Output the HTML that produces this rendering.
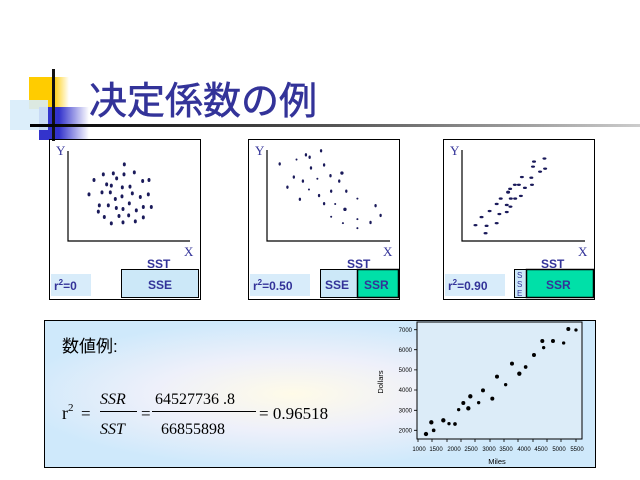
<!DOCTYPE html>
<html><head><meta charset="utf-8"><style>
html,body{margin:0;padding:0;background:#fff;width:640px;height:480px;overflow:hidden}
svg{display:block}
</style></head><body>
<svg width="640" height="480" viewBox="0 0 640 480" xmlns="http://www.w3.org/2000/svg">
<defs>
<linearGradient id="ln" x1="0" x2="1"><stop offset="0" stop-color="#000"/><stop offset="0.5" stop-color="#555"/><stop offset="1" stop-color="#ccc"/></linearGradient>
<linearGradient id="yl" x1="0" x2="1"><stop offset="0.6" stop-color="#ffcc00"/><stop offset="1" stop-color="#fff"/></linearGradient>
<linearGradient id="bl" x1="0" x2="1"><stop offset="0.4" stop-color="#3333cc"/><stop offset="1" stop-color="#fff"/></linearGradient>
<radialGradient id="bg" cx="0.45" cy="0.5" r="0.5"><stop offset="0" stop-color="#fffbe8"/><stop offset="0.5" stop-color="#eef0fa"/><stop offset="1" stop-color="#cfe9fb"/></radialGradient>
</defs>
<rect x="29" y="77" width="40" height="32" fill="url(#yl)"/>
<rect x="39" y="107" width="50" height="33" fill="url(#bl)"/>
<rect x="10" y="100" width="38" height="30" fill="#d8ecfa" opacity="0.9"/>
<rect x="52" y="69" width="3" height="72" fill="#111"/>
<rect x="30" y="124" width="610" height="3" fill="url(#ln)"/>
<text x="89" y="114" font-family="'Liberation Sans','Noto Sans CJK JP',sans-serif" font-size="38" fill="#333399" stroke="#333399" stroke-width="0.6">决定係数の例</text>

<g font-family="'Liberation Serif',serif" font-size="13" fill="#333399">
<rect x="49.5" y="139.5" width="151" height="160" fill="none" stroke="#000"/>
<path d="M68 151V241H190" fill="none" stroke="#000" stroke-width="1.2"/>
<text x="56" y="155">Y</text><text x="184" y="256">X</text>
<rect x="51" y="274" width="40" height="22" fill="#d8ecfa"/>
<rect x="121.5" y="269.5" width="77" height="28" fill="#cce8f8" stroke="#000"/>
<rect x="248.5" y="139.5" width="151" height="160" fill="none" stroke="#000"/>
<path d="M267 150V241H390" fill="none" stroke="#000" stroke-width="1.2"/>
<text x="255" y="155">Y</text><text x="383" y="256">X</text>
<rect x="250" y="274" width="60" height="22" fill="#d8ecfa"/>
<rect x="320.5" y="269.5" width="38" height="28" fill="#cce8f8" stroke="#000"/>
<rect x="357.5" y="269.5" width="41" height="28" fill="#00e0a8" stroke="#000" stroke-width="1.5"/>
<rect x="443.5" y="139.5" width="151" height="160" fill="none" stroke="#000"/>
<path d="M462 150V241H585" fill="none" stroke="#000" stroke-width="1.2"/>
<text x="450" y="155">Y</text><text x="578" y="256">X</text>
<rect x="445" y="274" width="60" height="22" fill="#d8ecfa"/>
<rect x="514.5" y="269.5" width="12" height="28" fill="#cce8f8" stroke="#000"/>
<rect x="526.5" y="269.5" width="67" height="28" fill="#00e0a8" stroke="#000" stroke-width="1.5"/>
</g>
<g font-family="'Liberation Sans',sans-serif" font-size="12" font-weight="bold" fill="#333399">
<text x="147" y="268">SST</text><text x="148" y="289">SSE</text>
<text x="54" y="290">r<tspan font-size="8" dy="-5">2</tspan><tspan dy="5">=0</tspan></text>
<text x="347" y="268">SST</text><text x="325" y="289">SSE</text><text x="364" y="289">SSR</text>
<text x="253" y="290">r<tspan font-size="8" dy="-5">2</tspan><tspan dy="5">=0.50</tspan></text>
<text x="541" y="268">SST</text><text x="546" y="289">SSR</text>
<text x="448" y="290">r<tspan font-size="8" dy="-5">2</tspan><tspan dy="5">=0.90</tspan></text>
<g font-size="8" font-weight="normal"><text x="517" y="278">S</text><text x="517" y="287">S</text><text x="517" y="296">E</text></g>
</g>
<g fill="#1a1a5a" transform="translate(0,60) scale(0.3333)">
<ellipse cx="282" cy="360" rx="4.5" ry="6"/><ellipse cx="310" cy="343" rx="4.5" ry="6"/><ellipse cx="340" cy="340" rx="4.5" ry="6"/><ellipse cx="350" cy="355" rx="4.5" ry="6"/><ellipse cx="372" cy="343" rx="4.5" ry="6"/><ellipse cx="403" cy="337" rx="4.5" ry="6"/><ellipse cx="428" cy="363" rx="4.5" ry="6"/><ellipse cx="447" cy="360" rx="4.5" ry="6"/><ellipse cx="320" cy="373" rx="4.5" ry="6"/><ellipse cx="334" cy="377" rx="4.5" ry="6"/><ellipse cx="367" cy="382" rx="4.5" ry="6"/><ellipse cx="390" cy="380" rx="4.5" ry="6"/><ellipse cx="267" cy="403" rx="4.5" ry="6"/><ellipse cx="306" cy="397" rx="4.5" ry="6"/><ellipse cx="331" cy="397" rx="4.5" ry="6"/><ellipse cx="346" cy="417" rx="4.5" ry="6"/><ellipse cx="366" cy="409" rx="4.5" ry="6"/><ellipse cx="397" cy="400" rx="4.5" ry="6"/><ellipse cx="421" cy="411" rx="4.5" ry="6"/><ellipse cx="445" cy="403" rx="4.5" ry="6"/><ellipse cx="298" cy="436" rx="4.5" ry="6"/><ellipse cx="325" cy="436" rx="4.5" ry="6"/><ellipse cx="349" cy="444" rx="4.5" ry="6"/><ellipse cx="369" cy="447" rx="4.5" ry="6"/><ellipse cx="388" cy="430" rx="4.5" ry="6"/><ellipse cx="409" cy="451" rx="4.5" ry="6"/><ellipse cx="430" cy="441" rx="4.5" ry="6"/><ellipse cx="454" cy="441" rx="4.5" ry="6"/><ellipse cx="295" cy="455" rx="4.5" ry="6"/><ellipse cx="313" cy="471" rx="4.5" ry="6"/><ellipse cx="357" cy="468" rx="4.5" ry="6"/><ellipse cx="386" cy="466" rx="4.5" ry="6"/><ellipse cx="334" cy="490" rx="4.5" ry="6"/><ellipse cx="369" cy="487" rx="4.5" ry="6"/><ellipse cx="406" cy="484" rx="4.5" ry="6"/><ellipse cx="430" cy="472" rx="4.5" ry="6"/><ellipse cx="373" cy="313" rx="4.5" ry="6"/>
</g>
<g fill="#1a1a5a" transform="translate(240,135) scale(0.3364)">
<ellipse cx="118" cy="86" rx="3.5" ry="5"/><ellipse cx="168" cy="73" rx="3" ry="3"/><ellipse cx="196" cy="59" rx="3.5" ry="5"/><ellipse cx="207" cy="66" rx="3.5" ry="5"/><ellipse cx="241" cy="47" rx="3.5" ry="5"/><ellipse cx="250" cy="89" rx="3.5" ry="5"/><ellipse cx="211" cy="98" rx="3.5" ry="5"/><ellipse cx="160" cy="125" rx="3.5" ry="5"/><ellipse cx="187" cy="137" rx="3.5" ry="5"/><ellipse cx="230" cy="130" rx="3" ry="3"/><ellipse cx="269" cy="121" rx="3.5" ry="5"/><ellipse cx="303" cy="113" rx="5" ry="5"/><ellipse cx="295" cy="137" rx="3.5" ry="5"/><ellipse cx="141" cy="155" rx="3.5" ry="5"/><ellipse cx="205" cy="162" rx="3" ry="3"/><ellipse cx="235" cy="180" rx="3.5" ry="5"/><ellipse cx="271" cy="167" rx="3.5" ry="5"/><ellipse cx="316" cy="167" rx="3.5" ry="5"/><ellipse cx="178" cy="191" rx="3.5" ry="5"/><ellipse cx="250" cy="204" rx="3.5" ry="5"/><ellipse cx="283" cy="205" rx="3" ry="3"/><ellipse cx="312" cy="221" rx="5" ry="5"/><ellipse cx="349" cy="189" rx="3" ry="3"/><ellipse cx="271" cy="243" rx="3" ry="3"/><ellipse cx="306" cy="262" rx="3" ry="3"/><ellipse cx="349" cy="250" rx="3" ry="3"/><ellipse cx="349" cy="277" rx="3" ry="3"/><ellipse cx="388" cy="260" rx="3.5" ry="5"/><ellipse cx="403" cy="210" rx="3.5" ry="5"/><ellipse cx="418" cy="239" rx="3.5" ry="5"/>
<ellipse cx="700" cy="268" rx="6" ry="3.5"/><ellipse cx="718" cy="244" rx="6" ry="3.5"/><ellipse cx="733" cy="270" rx="6" ry="3.5"/><ellipse cx="730" cy="292" rx="6" ry="3.5"/><ellipse cx="742" cy="226" rx="6" ry="3.5"/><ellipse cx="763" cy="205" rx="6" ry="3.5"/><ellipse cx="771" cy="235" rx="6" ry="3.5"/><ellipse cx="763" cy="262" rx="6" ry="3.5"/><ellipse cx="775" cy="189" rx="6" ry="3.5"/><ellipse cx="793" cy="208" rx="6" ry="3.5"/><ellipse cx="804" cy="213" rx="6" ry="3.5"/><ellipse cx="793" cy="229" rx="6" ry="3.5"/><ellipse cx="797" cy="170" rx="6" ry="4.5"/><ellipse cx="803" cy="160" rx="6" ry="3.5"/><ellipse cx="805" cy="189" rx="6" ry="3.5"/><ellipse cx="818" cy="189" rx="6" ry="3.5"/><ellipse cx="817" cy="148" rx="6" ry="3.5"/><ellipse cx="829" cy="148" rx="6" ry="3.5"/><ellipse cx="835" cy="181" rx="6" ry="3.5"/><ellipse cx="847" cy="157" rx="6" ry="3.5"/><ellipse cx="838" cy="125" rx="6" ry="3.5"/><ellipse cx="866" cy="127" rx="6" ry="3.5"/><ellipse cx="868" cy="148" rx="6" ry="3.5"/><ellipse cx="871" cy="94" rx="6" ry="3.5"/><ellipse cx="874" cy="79" rx="6" ry="3.5"/><ellipse cx="892" cy="109" rx="6" ry="3.5"/><ellipse cx="905" cy="70" rx="6" ry="3.5"/><ellipse cx="907" cy="100" rx="6" ry="3.5"/>
</g>

<rect x="44.5" y="320.5" width="551" height="147" fill="url(#bg)" stroke="#000"/>
<g font-family="'Liberation Serif','Noto Serif CJK SC',serif" fill="#000">
<text x="62" y="352" font-size="17" font-family="'Liberation Sans','Noto Sans CJK JP',sans-serif">数値例:</text>
<text x="62" y="419" font-size="18">r<tspan font-size="11" dy="-8">2</tspan></text>
<text x="81" y="419" font-size="17">=</text>
<text x="100" y="404" font-size="16" font-style="italic">SSR</text>
<rect x="100" y="411" width="37" height="1"/>
<text x="100" y="434" font-size="16" font-style="italic">SST</text>
<text x="141" y="419" font-size="17">=</text>
<text x="155" y="404" font-size="16">64527736 .8</text>
<rect x="152" y="411" width="104" height="1"/>
<text x="161" y="434" font-size="16">66855898</text>
<text x="259" y="419" font-size="17">= 0.96518</text>
</g>
<rect x="417" y="322" width="165" height="117" fill="#dcecf8" stroke="#000" stroke-width="1"/>
<g transform="translate(370,315) scale(0.3333)" fill="#000">
<circle cx="168" cy="357" r="6.5"/><circle cx="184" cy="322" r="6.5"/><circle cx="191" cy="346" r="5.5"/><circle cx="220" cy="316" r="6.5"/><circle cx="237" cy="326" r="5"/><circle cx="255" cy="327" r="5.5"/><circle cx="266" cy="284" r="5"/><circle cx="280" cy="264" r="6"/><circle cx="295" cy="280" r="6.5"/><circle cx="301" cy="244" r="6.5"/><circle cx="326" cy="263" r="5"/><circle cx="339" cy="226" r="6"/><circle cx="367" cy="251" r="6"/><circle cx="381" cy="185" r="6"/><circle cx="407" cy="209" r="5"/><circle cx="426" cy="146" r="6"/><circle cx="448" cy="176" r="6.5"/><circle cx="467" cy="156" r="5.5"/><circle cx="492" cy="120" r="6"/><circle cx="517" cy="78" r="6"/><circle cx="521" cy="98" r="5"/><circle cx="549" cy="78" r="6"/><circle cx="581" cy="84" r="5"/><circle cx="595" cy="42" r="6"/><circle cx="618" cy="45" r="5"/>
</g>
<g stroke="#000" stroke-width="0.8">
<path d="M414 329.7H417M414 349.7H417M414 369.9H417M414 390H417M414 410.3H417M414 430.3H417"/>
<path d="M418 439V442M432 439V442M447 439V442M461 439V442M475 439V442M490 439V442M504 439V442M518 439V442M533 439V442M547 439V442M561 439V442M576 439V442"/>
</g>
<g font-family="'Liberation Sans',sans-serif" font-size="6" fill="#000" text-anchor="end">
<text x="412" y="332">7000</text><text x="412" y="352">6000</text><text x="412" y="372">5000</text><text x="412" y="392">4000</text><text x="412" y="412.5">3000</text><text x="412" y="432.5">2000</text>
</g>
<g font-family="'Liberation Sans',sans-serif" font-size="6" fill="#000" text-anchor="middle">
<text x="419" y="451">1000</text><text x="436" y="451">1500</text><text x="454" y="451">2000</text><text x="471" y="451">2500</text><text x="489" y="451">3000</text><text x="506" y="451">3500</text><text x="524" y="451">4000</text><text x="541" y="451">4500</text><text x="559" y="451">5000</text><text x="577" y="451">5500</text>
<text x="497" y="464" font-size="7.5">Miles</text>
<text transform="translate(383,382) rotate(-90)" font-size="7.5">Dollars</text>
</g>
</svg>
</body></html>
